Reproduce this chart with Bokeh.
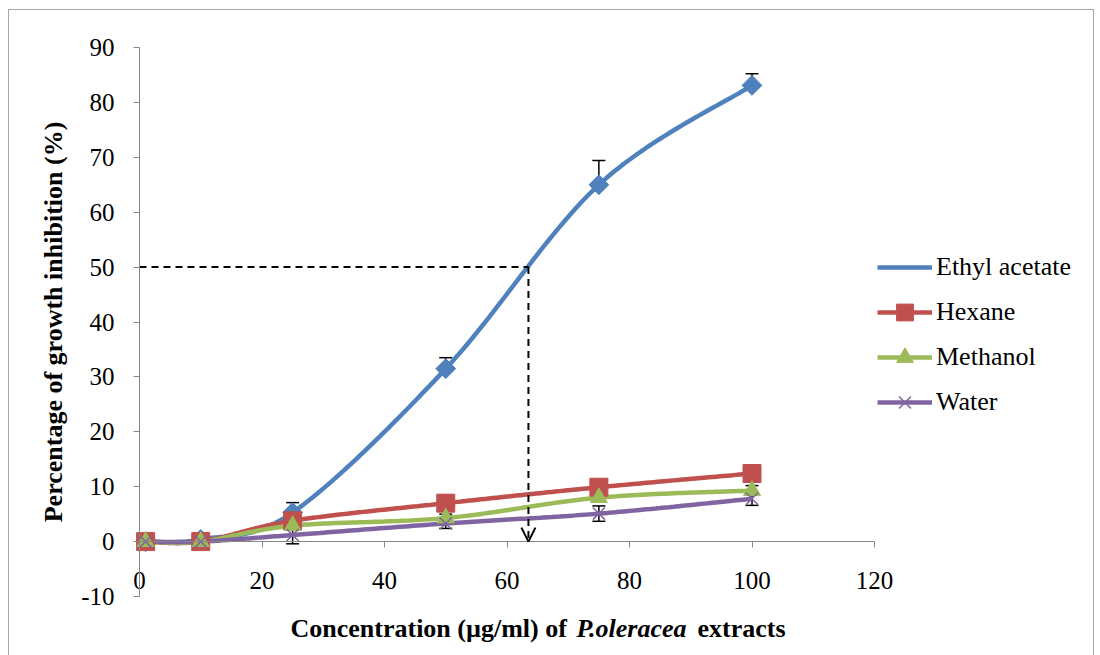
import numpy as np
from bokeh.plotting import figure
from bokeh.models import (Range1d, FixedTicker, Legend, LegendItem, Whisker, TeeHead,
                          ColumnDataSource, Arrow, OpenHead, Label)
from bokeh.embed import file_html
from bokeh.resources import INLINE

# Growth inhibition (%) of the four solvent extracts
concentration = [1, 10, 25, 50, 75, 100]
ethyl_acetate = [0.0, 0.4, 5.3, 31.5, 65.0, 83.1]
ethyl_acetate_err = [0.3, 0.4, 1.8, 2.0, 4.4, 2.1]
hexane = [0.0, 0.0, 3.8, 7.0, 9.9, 12.4]
hexane_err = [0.2, 0.2, 0.6, 0.6, 0.8, 0.8]
methanol = [0.0, 0.0, 2.9, 4.3, 8.0, 9.3]
methanol_err = [0.2, 0.2, 0.8, 0.7, 0.9, 0.9]
water = [0.0, 0.0, 1.2, 3.3, 5.1, 7.8]
water_err = [0.2, 0.2, 1.6, 0.9, 1.4, 1.2]

series_names = ["Ethyl acetate", "Hexane", "Methanol", "Water"]
series_values = [ethyl_acetate, hexane, methanol, water]
series_errors = [ethyl_acetate_err, hexane_err, methanol_err, water_err]
series_colors = ["#4F81BD", "#C0504D", "#9BBB59", "#8064A2"]
two_sided_error = [False, False, False, True]

ic50 = 63.5          # concentration giving 50 % inhibition (ethyl acetate)
half_inhibition = 50

x_ticks = [0, 20, 40, 60, 80, 100, 120]
y_ticks = [-10, 0, 10, 20, 30, 40, 50, 60, 70, 80, 90]

SERIF = "Liberation Serif"

# pixel scale of the axes: 6.125 px per µg/ml, 5.49 px per %
PX_X, PX_Y = 6.125, 5.49
CANVAS_W, CANVAS_H = 1084, 645
AXIS_LEFT, AXIS_TOP = 130, 37       # canvas position of x=0 / y=90


def smooth(xs, ys, n=40):
    """Bezier-smoothed path through the points (Catmull-Rom control points)."""
    pts = np.column_stack([xs, ys]).astype(float)
    ext = np.vstack([pts[0], pts, pts[-1]])
    out = []
    t = np.linspace(0, 1, n)[:, None]
    for i in range(len(pts) - 1):
        p0, p1, p2, p3 = ext[i], ext[i + 1], ext[i + 2], ext[i + 3]
        c1 = p1 + (p2 - p0) / 6.0
        c2 = p2 - (p3 - p1) / 6.0
        seg = ((1 - t) ** 3) * p1 + 3 * ((1 - t) ** 2) * t * c1 + 3 * (1 - t) * t ** 2 * c2 + t ** 3 * p2
        out.append(seg if i == 0 else seg[1:])
    s = np.vstack(out)
    return s[:, 0], s[:, 1]


x0 = x_ticks[0] - AXIS_LEFT / PX_X
x1 = x0 + CANVAS_W / PX_X
y1 = y_ticks[-1] + AXIS_TOP / PX_Y
y0 = y1 - CANVAS_H / PX_Y

p = figure(frame_width=CANVAS_W, frame_height=CANVAS_H,
           x_range=Range1d(x0, x1), y_range=Range1d(y0, y1),
           output_backend="svg", toolbar_location=None,
           min_border_left=0, min_border_top=0, min_border_bottom=0, min_border_right=0,
           margin=(9, 0, 0, 8))
p.styles = {"border-top": "1px solid #a6a6a6",
            "border-left": "1px solid #a6a6a6",
            "border-right": "1px solid #a6a6a6"}
p.outline_line_color = None
p.grid.visible = False
p.background_fill_color = "white"
p.border_fill_color = "white"

# axes crossing at the origin
axis_grey = "#868686"
p.xaxis.fixed_location = 0
p.yaxis.fixed_location = 0
p.xaxis.bounds = (x_ticks[0], x_ticks[-1])
p.yaxis.bounds = (y_ticks[0], y_ticks[-1])
p.xaxis.ticker = FixedTicker(ticks=x_ticks)
p.yaxis.ticker = FixedTicker(ticks=y_ticks)
for ax in (p.xaxis, p.yaxis):
    ax.axis_line_color = axis_grey
    ax.major_tick_line_color = axis_grey
    ax.major_tick_out = 6
    ax.major_tick_in = 0
    ax.minor_tick_line_color = None
    ax.major_label_text_font = SERIF
    ax.major_label_text_font_size = "25px"
    ax.major_label_text_color = "black"
p.yaxis.major_label_overrides = {t: str(t) for t in y_ticks}
p.xaxis.major_label_standoff = 24
p.yaxis.major_label_standoff = 19
p.yaxis.axis_label = "Percentage of growth inhibition (%)"
p.yaxis.axis_label_text_font = SERIF
p.yaxis.axis_label_text_font_size = "26px"
p.yaxis.axis_label_text_font_style = "bold"
p.yaxis.axis_label_text_color = "black"
p.yaxis.axis_label_standoff = 10

# smoothed lines
lines = []
for vals, col in zip(series_values, series_colors):
    sx, sy = smooth(concentration, vals)
    lines.append(p.line(sx, sy, line_color=col, line_width=4.5))

# error bars
for vals, errs, both in zip(series_values, series_errors, two_sided_error):
    v = np.array(vals)
    e = np.array(errs)
    src = ColumnDataSource(dict(x=concentration, upper=v + e, lower=(v - e) if both else v))
    p.add_layout(Whisker(source=src, base="x", upper="upper", lower="lower",
                         line_color="black", line_width=1.5,
                         upper_head=TeeHead(size=13, line_color="black", line_width=1.5),
                         lower_head=TeeHead(size=13, line_color="black", line_width=1.5) if both else None))

# markers
markers = []
markers.append(p.scatter(concentration, ethyl_acetate, marker="square", angle=np.pi / 4, size=14,
                         fill_color=series_colors[0], line_color=series_colors[0]))
markers.append(p.scatter(concentration, hexane, marker="square", size=18,
                         fill_color=series_colors[1], line_color=series_colors[1]))
markers.append(p.scatter(concentration, methanol, marker="triangle", size=17,
                         fill_color=series_colors[2], line_color=series_colors[2]))
markers.append(p.scatter(concentration, water, marker="x", size=17, line_width=1.5,
                         line_color=series_colors[3]))

# legend symbol for the diamond series
diamond_key = p.scatter(x=[], y=[], marker="diamond", size=18,
                        fill_color=series_colors[0], line_color=series_colors[0])

# IC50 guide lines
p.segment(x0=[0], y0=[half_inhibition], x1=[ic50], y1=[half_inhibition],
          line_color="black", line_width=2, line_dash="7 5")
p.add_layout(Arrow(x_start=ic50, y_start=half_inhibition, x_end=ic50, y_end=0,
                   line_color="black", line_width=2, line_dash="7 5",
                   end=OpenHead(size=14, line_color="black", line_width=2)))

# x axis title with italic species name
title_y = -15.85
parts = [("Concentration (\u00b5g/ml) of ", "bold", 281),
         ("P.oleracea", "bold italic", 567),
         (" extracts", "bold", 688)]
for txt, style, sx in parts:
    p.add_layout(Label(x=sx, y=title_y, x_units="screen", y_units="data", text=txt,
                       text_font=SERIF, text_font_size="26px", text_font_style=style,
                       text_color="black", text_baseline="middle", text_align="left"))

legend_keys = [diamond_key] + markers[1:]
items = [LegendItem(label=n, renderers=[l, m])
         for n, l, m in zip(series_names, lines, legend_keys)]
p.add_layout(Legend(items=items, location=(868, 232), glyph_height=42, label_height=42,
                    border_line_color=None, background_fill_alpha=0, padding=0, margin=0,
                    spacing=3, glyph_width=55, label_standoff=4,
                    label_text_font=SERIF, label_text_font_size="26px",
                    label_text_color="black"))

open("out.html", "w").write(file_html(p, INLINE))
